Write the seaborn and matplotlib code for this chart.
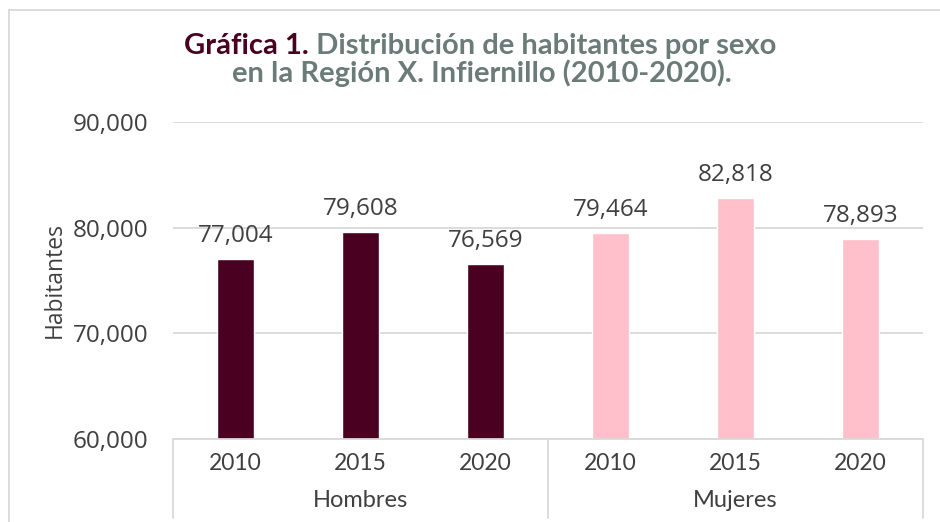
import matplotlib
matplotlib.use("Agg")
import matplotlib.pyplot as plt
import seaborn as sns
import pandas as pd
from matplotlib.lines import Line2D
import matplotlib.transforms as mtransforms

# --- data ---
sexos = ['Hombres', 'Mujeres']
years = ['2010', '2015', '2020']
hombres = [77004, 79608, 76569]
mujeres = [79464, 82818, 78893]

df = pd.DataFrame({
    'Sexo': [s for s in sexos for _ in years],
    'Año': years * 2,
    'Habitantes': hombres + mujeres,
})
df['Cat'] = df['Sexo'] + ' ' + df['Año']

sns.set_theme(style='white')
plt.rcParams['font.family'] = ['Lato', 'DejaVu Sans']
num_font = ['Open Sans', 'DejaVu Sans']

maroon = '#4a0020'
pink = '#ffc0cb'
grid_c = '#d9d9d9'
text_c = '#404040'

fig = plt.figure(figsize=(9.4, 5.22), dpi=100)
ax = fig.add_axes([173/940, 1-439/522, 750/940, 317/522])

sns.barplot(data=df, x='Cat', y='Habitantes', hue='Sexo', dodge=False,
            palette={'Hombres': maroon, 'Mujeres': pink}, width=0.3,
            legend=False, ax=ax, saturation=1)

ax.set_ylim(60000, 90000)
ax.set_yticks([60000, 70000, 80000, 90000])
ax.set_yticklabels([f'{v:,.0f}' for v in ax.get_yticks()], fontsize=17.5,
                   color=text_c, family=num_font)
ax.set_xlim(-0.5, 5.5)
ax.set_xticks(range(6))
ax.set_xticklabels(df['Año'], fontsize=16.5, color=text_c)
ax.tick_params(axis='x', length=0, pad=10)
ax.tick_params(axis='y', length=0, pad=18)
ax.set_xlabel('')
ax.set_ylabel('Habitantes', fontsize=16.5, color=text_c, labelpad=4, family=num_font)
ax.yaxis.grid(True, color=grid_c, linewidth=1.3)
ax.set_axisbelow(True)
for sp in ['top', 'right', 'left']:
    ax.spines[sp].set_visible(False)
ax.spines['bottom'].set_color(grid_c)
ax.spines['bottom'].set_linewidth(1.3)

# value labels
for cont in ax.containers:
    ax.bar_label(cont, labels=[f'{v:,.0f}' for v in cont.datavalues],
                 padding=8, fontsize=17.5, color=text_c, family=num_font)

# two level category axis
trans = mtransforms.blended_transform_factory(ax.transData, ax.transAxes)
for xv in [-0.5, 2.5, 5.5]:
    ax.add_line(Line2D([xv, xv], [0, -0.25], transform=trans, color=grid_c,
                       linewidth=1.3, clip_on=False))
for i, s in enumerate(sexos):
    ax.text(1 + 3 * i, -0.195, s, transform=trans, ha='center', va='center',
            fontsize=17, color=text_c)

# chart frame
fig.add_artist(Line2D([9/940, 9/940], [0, 1-10/522], transform=fig.transFigure,
                      color=grid_c, linewidth=1.3))
fig.add_artist(Line2D([9/940, 1], [1-10/522, 1-10/522], transform=fig.transFigure,
                      color=grid_c, linewidth=1.3))

# title with two colours on the first line
title_c = '#6b7b77'
tfont = dict(fontsize=21, fontweight='bold', va='center')
t1 = fig.text(0, 1-46/522, 'Gráfica 1.', color=maroon, **tfont)
t2 = fig.text(0, 1-46/522, ' Distribución de habitantes por sexo', color=title_c, **tfont)
fig.canvas.draw()
r = fig.canvas.get_renderer()
w1 = t1.get_window_extent(r).width
w2 = t2.get_window_extent(r).width
x0 = 480 - (w1 + w2) / 2
t1.set_x(x0 / 940)
t2.set_x((x0 + w1) / 940)
fig.text(482/940, 1-73/522, 'en la Región X. Infiernillo (2010-2020).',
         color=title_c, ha='center', **tfont)

fig.savefig('out.png', dpi=100)
